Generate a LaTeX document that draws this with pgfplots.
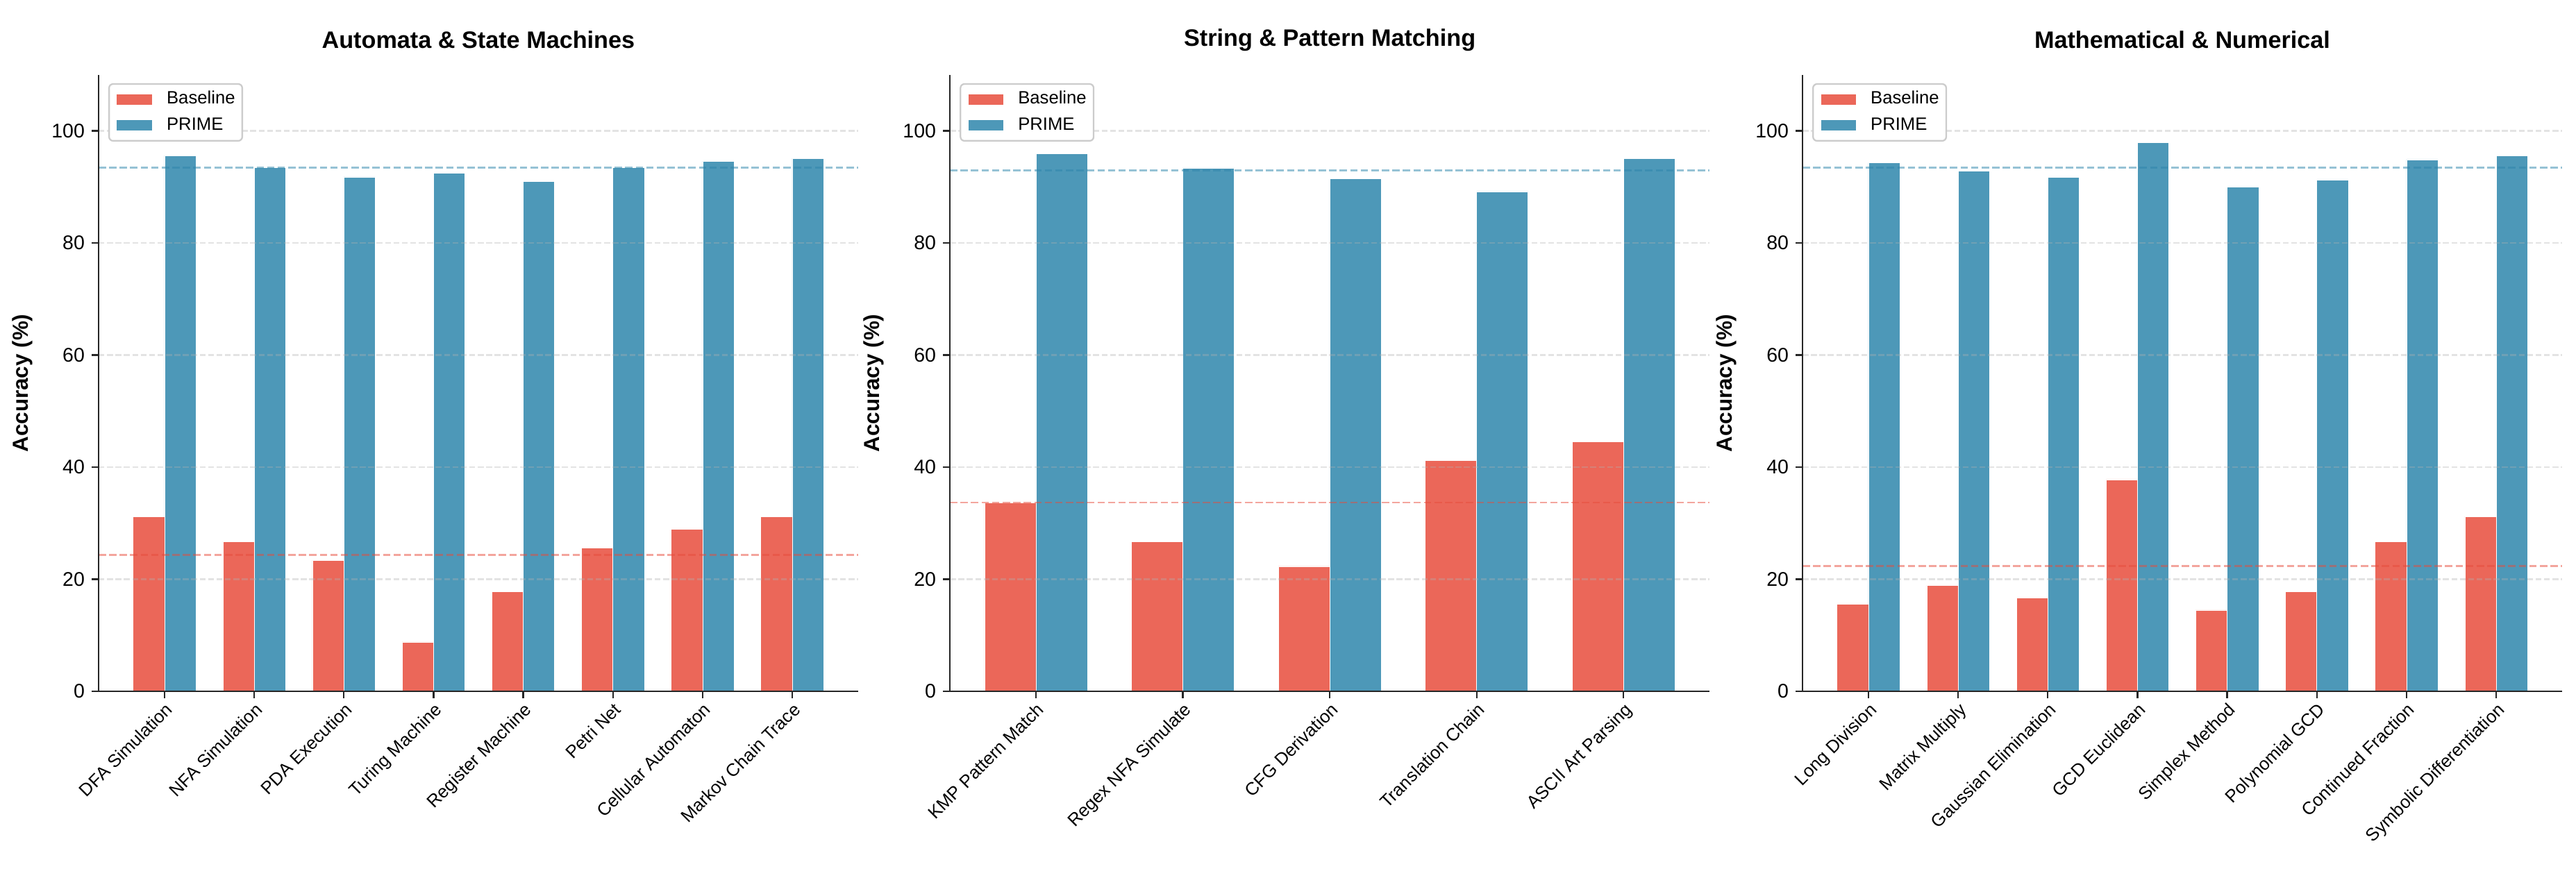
\documentclass[border=0pt]{standalone}
\usepackage{pgfplots}
\pgfplotsset{compat=1.18}
\usepackage{fontspec}
\setmainfont{Liberation Sans}
\definecolor{bred}{HTML}{EB6759}
\definecolor{bblue}{HTML}{4D98B8}
\definecolor{lred}{HTML}{E74C3C}
\definecolor{lblue}{HTML}{2E86AB}
\definecolor{gridc}{HTML}{B0B0B0}
\pgfplotsset{
  panel/.style={
    scale only axis, width=382.2bp, height=310.3bp, anchor=south west,
    ymin=0, ymax=110, ytick={0,20,40,60,80,100},
    axis x line*=bottom, axis y line*=left,
    axis line style={line width=0.8bp, black!85, -},
    tick style={line width=0.8bp, black!85},
    tick align=outside, major tick length=3.5bp,
    ymajorgrids,
    major grid style={dash pattern=on 2.96bp off 1.28bp, gridc, opacity=0.35, line width=0.8bp},
    axis on top,
    /pgf/number format/assume math mode=true,
    yticklabel style={font=\fontsize{10}{12}\selectfont},
    xticklabel style={font=\fontsize{9}{11}\selectfont, rotate=45, anchor=north east, inner sep=1bp},
    ylabel={Accuracy (\%)},
    ylabel style={font=\fontsize{11}{13}\selectfont\bfseries, at={(axis description cs:-0.1005,0.5)}, anchor=center},
    every axis title/.style={font=\fontsize{12}{14}\selectfont\bfseries, at={(0.5,1.057)}, anchor=center},
    legend cell align=left,
    legend style={at={(0.0128,0.9865)}, anchor=north west, draw=black!20, rounded corners=2bp,
      line width=0.8bp, font=\fontsize{9}{10.8}\selectfont, inner xsep=3.6bp, inner ysep=3.6bp,
      row sep=4.8bp, nodes={inner sep=0pt, text height=6.5bp, text depth=1.8bp}},
  },
  bleg/.style={legend image code/.code={\fill[##1, sharp corners] (0bp,-2.8bp) rectangle (18bp,2.8bp); \path (25.2bp,0bp);}},
  base/.style={ybar, bar width=0.35, bar shift=-0.175, fill=bred, draw=white, line width=0.2bp, bleg},
  prime/.style={ybar, bar width=0.35, bar shift=0.175, fill=bblue, draw=white, line width=0.2bp, bleg},
  mred/.style={forget plot, mark=none, draw=lred, draw opacity=0.5, line width=1bp, dash pattern=on 3.7bp off 1.6bp},
  mblue/.style={forget plot, mark=none, draw=lblue, draw opacity=0.5, line width=1bp, dash pattern=on 3.7bp off 1.6bp},
}
\begin{document}
\begin{tikzpicture}
\useasboundingbox (0,0) rectangle (1296.2bp,437.1bp);
% Panel 1
\begin{axis}[panel, at={(49.6bp,89.1bp)}, title={Automata \& State Machines},
  xmin=-0.735, xmax=7.735, xtick={0,...,7},
  xticklabels={DFA Simulation,NFA Simulation,PDA Execution,Turing Machine,Register Machine,Petri Net,Cellular Automaton,Markov Chain Trace}]
\addplot[base] coordinates {(0,31.2) (1,26.7) (2,23.4) (3,8.8) (4,17.8) (5,25.6) (6,28.9) (7,31.2)};
\addplot[prime] coordinates {(0,95.6) (1,93.5) (2,91.8) (3,92.5) (4,91.0) (5,93.5) (6,94.6) (7,95.1)};
\addplot[mred] coordinates {(-0.735,24.3) (7.735,24.3)};
\addplot[mblue] coordinates {(-0.735,93.5) (7.735,93.5)};
\legend{Baseline,PRIME}
\end{axis}
% Panel 2
\begin{axis}[panel, at={(478.0bp,89.1bp)}, title={String \& Pattern Matching},
  xmin=-0.585, xmax=4.585, xtick={0,...,4},
  xticklabels={KMP Pattern Match,Regex NFA Simulate,CFG Derivation,Translation Chain,ASCII Art Parsing}]
\addplot[base] coordinates {(0,33.6) (1,26.7) (2,22.3) (3,41.2) (4,44.5)};
\addplot[prime] coordinates {(0,95.9) (1,93.4) (2,91.5) (3,89.2) (4,95.1)};
\addplot[mred] coordinates {(-0.585,33.7) (4.585,33.7)};
\addplot[mblue] coordinates {(-0.585,93.0) (4.585,93.0)};
\legend{Baseline,PRIME}
\end{axis}
% Panel 3
\begin{axis}[panel, at={(907.0bp,89.1bp)}, title={Mathematical \& Numerical},
  xmin=-0.735, xmax=7.735, xtick={0,...,7},
  xticklabels={Long Division,Matrix Multiply,Gaussian Elimination,GCD Euclidean,Simplex Method,Polynomial GCD,Continued Fraction,Symbolic Differentiation}]
\addplot[base] coordinates {(0,15.6) (1,18.9) (2,16.7) (3,37.8) (4,14.5) (5,17.8) (6,26.7) (7,31.2)};
\addplot[prime] coordinates {(0,94.3) (1,92.8) (2,91.7) (3,97.9) (4,90.0) (5,91.3) (6,94.9) (7,95.6)};
\addplot[mred] coordinates {(-0.735,22.4) (7.735,22.4)};
\addplot[mblue] coordinates {(-0.735,93.5) (7.735,93.5)};
\legend{Baseline,PRIME}
\end{axis}
\end{tikzpicture}
\end{document}
